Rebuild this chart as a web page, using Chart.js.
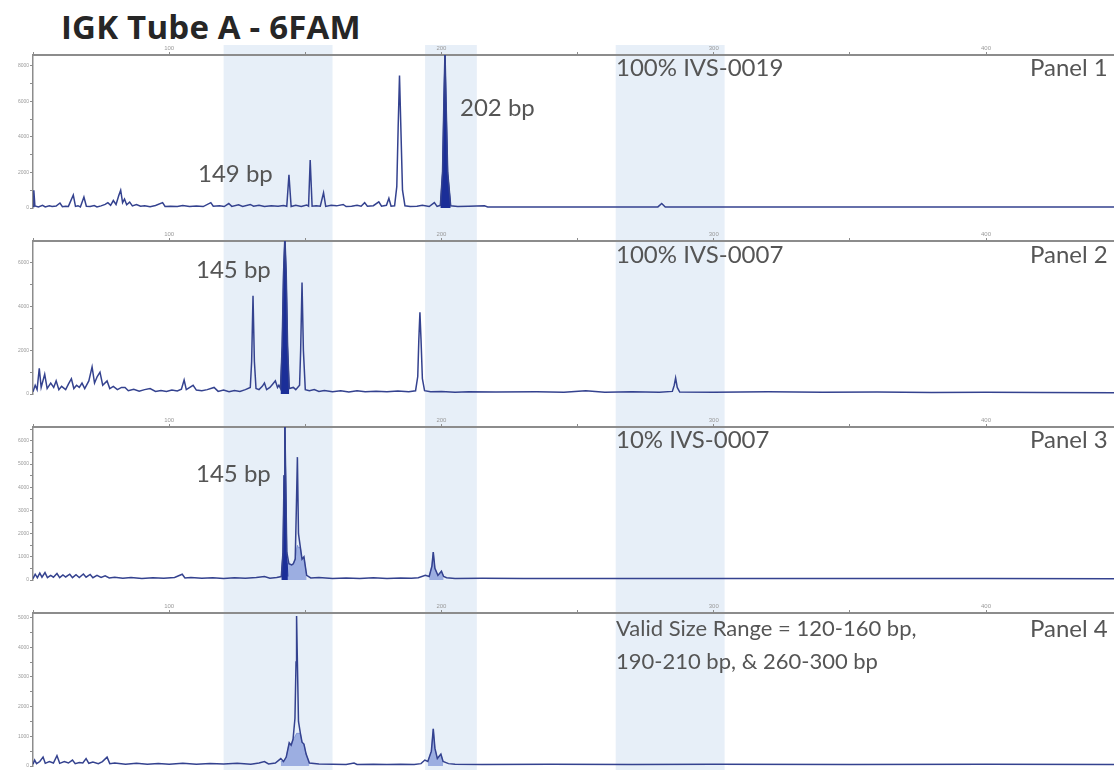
<!DOCTYPE html>
<html>
<head>
<meta charset="utf-8">
<title>IGK Tube A - 6FAM</title>
<script src="https://cdn.jsdelivr.net/npm/chart.js@4.4.1/dist/chart.umd.min.js"></script>
<style>
  body { margin: 0; width: 1114px; height: 770px; overflow: hidden; position: relative; background: #fff; font-family: "Open Sans", sans-serif; }
  h1 { position: absolute; left: 61px; top: 4px; margin: 0; font-size: 33px; font-weight: 700; color: #262626; letter-spacing: 0.2px; }
  .panel { position: absolute; left: 0; width: 1114px; height: 186px; }
  .lbl { position: absolute; font-family: Lato, "Open Sans", sans-serif; font-size: 24px; line-height: 24px; color: #555; font-weight: 400; white-space: nowrap; }
  .lbl.small { font-size: 22px; line-height: 22px; }
</style>
</head>
<body>
<h1>IGK Tube A - 6FAM</h1>
<canvas id="panel1" class="panel" width="1114" height="186" style="top:45px"></canvas>
<canvas id="panel2" class="panel" width="1114" height="186" style="top:231px"></canvas>
<canvas id="panel3" class="panel" width="1114" height="186" style="top:417px"></canvas>
<canvas id="panel4" class="panel" width="1114" height="186" style="top:603px"></canvas>

<div class="lbl" style="left:616px;top:55px">100% IVS-0019</div>
<div class="lbl" style="left:1030px;top:55px">Panel 1</div>
<div class="lbl" style="left:460px;top:95px">202 bp</div>
<div class="lbl" style="left:198px;top:161px">149 bp</div>

<div class="lbl" style="left:616px;top:242px">100% IVS-0007</div>
<div class="lbl" style="left:1030px;top:242px">Panel 2</div>
<div class="lbl" style="left:196px;top:257px">145 bp</div>

<div class="lbl" style="left:616px;top:427px">10% IVS-0007</div>
<div class="lbl" style="left:1030px;top:427px">Panel 3</div>
<div class="lbl" style="left:196px;top:461px">145 bp</div>

<div class="lbl small" style="left:616px;top:617px">Valid Size Range = 120-160 bp,</div>
<div class="lbl small" style="left:616px;top:650px">190-210 bp, &amp; 260-300 bp</div>
<div class="lbl" style="left:1030px;top:616px">Panel 4</div>

<script>
// size axis (bp), its ticks and the shaded windows
const xMin = 50;
const xMax = 447;
const xTicks = [50, 100, 150, 200, 250, 300, 350, 400];
const xTickLabels = [100, 200, 300, 400];
const bands = [[120, 160], [194, 213], [264, 304]];

// panel 1 - 100% IVS-0019
const p1Bp  = [50, 50.3, 50.7, 52, 53.5, 54.5, 56, 57, 58.5, 59.9, 60.8, 62, 63, 64.8, 65.6, 66.5, 67.4, 68.7, 69.6, 71,
  72.5, 73.5, 75, 76.5, 77.5, 78.5, 79.5, 80.5, 81.5, 82.2, 82.9, 83.6, 84.4, 85.5, 86.5, 88, 89.5, 91, 93, 95,
  97.6, 98.5, 100.5, 103, 105, 107.5, 110, 112.5, 115.3, 116.2, 118.5, 120.2, 121.9, 123, 125.5, 127, 129.8, 131, 133, 135,
  137.5, 140, 142, 143.2, 144, 144.8, 146.5, 148.5, 150.5, 151.2, 151.8, 152.5, 154, 155.5, 156.7, 157.5, 159.5, 161.5, 163.9, 165,
  167, 169, 170.5, 171.8, 172.8, 175, 177, 178, 179.8, 180.7, 181.5, 182.8, 183.6, 184.1, 184.6, 185.1, 185.7, 186.6, 188.5, 191,
  193, 195.5, 197.4, 198.4, 199.6, 200.4, 200.9, 201.3, 201.7, 202.3, 203.4, 206, 210, 215.8, 217, 230, 250, 270, 279.5, 280.9,
  282.2, 300, 340, 380, 420, 447];
const p1Rfu = [80, 1000, 120, 60, 150, 60, 120, 80, 110, 280, 70, 100, 90, 730, 90, 130, 60, 620, 100, 80,
  140, 60, 120, 200, 300, 150, 420, 200, 700, 1000, 300, 500, 180, 330, 120, 200, 100, 130, 70, 140,
  300, 90, 100, 80, 140, 90, 110, 80, 300, 100, 120, 80, 250, 90, 180, 90, 200, 100, 160, 80,
  120, 100, 140, 100, 1860, 80, 150, 90, 170, 100, 2700, 100, 120, 100, 860, 90, 150, 120, 200, 80,
  100, 150, 100, 300, 100, 130, 350, 100, 150, 550, 100, 120, 1200, 4500, 7450, 4500, 1000, 120, 80, 100,
  150, 80, 300, 90, 150, 2000, 6000, 8800, 6000, 2000, 120, 80, 100, 120, 60, 50, 60, 50, 60, 250,
  60, 50, 60, 50, 60, 50];
const p1PeakBp  = [199.6, 200.4, 200.9, 201.3, 201.7, 202.3, 203.4];
const p1PeakRfu = [150, 2000, 6000, 8800, 6000, 2000, 120];

// panel 2 - 100% IVS-0007
const p2Bp  = [50, 50.8, 51.5, 52.3, 53, 54.3, 55.2, 56.5, 57.6, 58.5, 59.5, 60.5, 62, 63, 64.1, 65, 66, 67, 68, 69,
  70.5, 71.7, 72.6, 73.6, 74.6, 75.6, 77.2, 78.2, 79.5, 81, 82.5, 83.8, 85, 87, 89, 91, 93, 95, 97, 99,
  101, 103, 104.5, 105.5, 106.3, 108.8, 110, 112, 114, 116.5, 118, 120, 122, 124, 126, 128, 129.8, 130.3, 130.8, 131.3,
  131.9, 133, 134.2, 135, 135.8, 137, 138, 139, 139.8, 140.3, 140.9, 141.5, 142, 142.5, 143, 143.5, 144.1, 145.6, 146.5, 147.9,
  148.3, 148.8, 149.3, 150, 151.5, 153.3, 155, 157, 160, 163, 166, 169, 172, 176, 180, 184, 188, 190.5, 191.3, 191.7,
  192.1, 192.5, 193, 193.8, 196, 200, 205, 210, 220, 235, 245, 253, 260, 270, 280, 284.8, 285.5, 286, 286.6, 287.5,
  300, 320, 340, 360, 380, 400, 420, 447];
const p2Rfu = [100, 400, 200, 1180, 300, 900, 250, 500, 300, 600, 200, 350, 200, 450, 700, 250, 400, 300, 500, 250,
  600, 1240, 500, 800, 1000, 400, 600, 250, 350, 200, 300, 300, 150, 220, 130, 200, 250, 120, 160, 120,
  180, 140, 220, 640, 200, 400, 180, 150, 200, 300, 120, 180, 100, 160, 120, 200, 300, 1500, 4500, 1500,
  250, 200, 350, 500, 200, 300, 450, 600, 300, 400, 250, 2200, 5500, 7200, 5500, 2200, 250, 300, 200, 400,
  2000, 5100, 2000, 200, 150, 200, 120, 160, 100, 150, 90, 150, 100, 130, 100, 140, 100, 150, 800, 2500,
  3740, 2500, 700, 150, 100, 120, 80, 100, 90, 100, 80, 150, 80, 100, 80, 120, 400, 730, 300, 90,
  80, 100, 80, 90, 70, 80, 70, 60];
const p2PeakBp  = [140.9, 141.5, 142, 142.5, 143, 143.5, 144.1];
const p2PeakRfu = [250, 2200, 5500, 7200, 5500, 2200, 250];

// panel 3 - 10% IVS-0007
const p3Bp  = [50, 50.8, 51.6, 52.5, 53.3, 54.4, 55.3, 56.5, 57.5, 58.8, 59.8, 61, 62, 63.5, 64.5, 65.8, 67, 68.5, 69.5, 71,
  72, 73.5, 75, 76.5, 78, 80, 83, 86, 90, 94, 98, 102, 104.8, 105.8, 108, 112, 116, 120, 124, 128,
  132, 135, 137, 139.5, 141.2, 141.8, 142.2, 142.5, 142.8, 143.2, 144, 145, 145.6, 146.3, 146.7, 147.1, 147.5, 148.2, 148.8, 149.5,
  150.5, 152, 155, 160, 165, 170, 175, 180, 185, 189, 191.5, 194.1, 195.5, 196.5, 197, 197.6, 198.7, 200, 200.8, 201.9,
  205, 215, 230, 260, 300, 350, 400, 447];
const p3Rfu = [60, 250, 100, 300, 120, 320, 100, 200, 120, 280, 100, 220, 130, 250, 100, 230, 110, 260, 120, 240,
  100, 200, 110, 180, 90, 120, 80, 110, 70, 100, 80, 110, 250, 90, 110, 80, 100, 70, 100, 80,
  110, 150, 80, 110, 150, 1200, 4500, 6700, 4500, 1200, 700, 650, 700, 900, 3000, 5300, 2000, 1400, 900, 1000,
  200, 90, 110, 70, 90, 70, 100, 70, 90, 80, 100, 200, 150, 600, 1200, 500, 200, 380, 150, 100,
  70, 80, 60, 70, 60, 60, 60, 50];
const p3PeakBp  = [141.2, 141.8, 142.2, 142.5, 142.8, 143.2, 143.6];
const p3PeakRfu = [150, 1200, 4500, 6700, 4500, 1200, 150];
const p3ShoulderBp  = [143.2, 144, 145, 145.6, 146.3, 146.7, 147.1, 147.5, 148.2, 148.8, 149.5, 150.5];
const p3ShoulderRfu = [700, 700, 650, 700, 900, 1300, 1500, 1400, 1400, 900, 1000, 200];
const p3SecondBp  = [195.5, 196.5, 197, 197.6, 198.7, 200, 200.8];
const p3SecondRfu = [150, 600, 1200, 500, 200, 380, 150];

// panel 4 - valid size ranges
const p4Bp  = [50, 50.6, 51.3, 52.5, 53.7, 54.5, 56, 57.5, 58.8, 59.8, 61.5, 63, 64.5, 65.5, 67, 68.3, 69.5, 70.5, 72, 74,
  75.5, 77.2, 78.2, 80, 84, 88, 92, 96, 100, 105, 110, 115, 120, 125, 130, 133, 135, 136.5, 139, 141,
  142, 143, 144.1, 144.8, 145.5, 146.2, 146.6, 146.8, 147.1, 147.5, 148.2, 148.8, 149.5, 150.3, 151.5, 155, 160, 165, 167.9, 169,
  175, 180, 185, 190, 192.5, 193.9, 195, 196.3, 197, 197.6, 198.5, 199.8, 200.6, 202.6, 205, 215, 240, 270, 300, 350,
  400, 447];
const p4Rfu = [60, 200, 80, 150, 300, 90, 150, 100, 350, 90, 150, 100, 200, 80, 120, 100, 250, 90, 130, 80,
  150, 300, 80, 100, 60, 90, 60, 80, 60, 90, 60, 80, 70, 90, 60, 100, 150, 70, 100, 250,
  150, 300, 780, 700, 900, 1600, 3500, 5050, 3500, 1500, 1100, 800, 740, 400, 100, 70, 60, 50, 100, 50,
  60, 50, 60, 50, 80, 200, 150, 500, 1250, 600, 250, 400, 150, 80, 60, 50, 60, 50, 60, 50,
  60, 50];
const p4ShoulderBp  = [141, 142, 143, 144.1, 144.8, 145.5, 146.2, 146.8, 147.5, 148.2, 148.8, 149.5, 150.3, 151.5];
const p4ShoulderRfu = [150, 150, 300, 780, 700, 900, 1000, 1100, 1100, 1100, 800, 740, 400, 100];
const p4SecondBp  = [195, 196.3, 197, 197.6, 198.5, 199.8, 200.6];
const p4SecondRfu = [150, 500, 1250, 600, 250, 400, 150];

// y ranges and ticks per panel
const yMax = [8600, 7000, 6600, 5150];
const p1YTicks = [0, 1000, 2000, 3000, 4000, 5000, 6000, 7000, 8000];
const p2YTicks = [0, 1000, 2000, 3000, 4000, 5000, 6000];
const p3YTicks = [0, 500, 1000, 1500, 2000, 2500, 3000, 3500, 4000, 4500, 5000, 5500, 6000, 6500];
const p4YTicks = [0, 500, 1000, 1500, 2000, 2500, 3000, 3500, 4000, 4500, 5000];
const yLabelEvery = [2000, 2000, 1000, 1000];

const TRACE = '#34428f';
const DARK = '#1b2e98';
const LIGHT = 'rgba(95,120,205,0.55)';

const pts = (xs, ys) => xs.map((x, i) => ({ x: x, y: ys[i] }));

const bandsPlugin = {
  id: 'bands',
  beforeDraw(chart) {
    const { ctx, scales: { x } } = chart;
    ctx.save();
    ctx.fillStyle = '#e7eff8';
    bands.forEach(([a, b]) => {
      const x1 = x.getPixelForValue(a);
      const x2 = x.getPixelForValue(b);
      ctx.fillRect(x1, 0, x2 - x1, chart.height);
    });
    ctx.restore();
  }
};

function makePanel(canvasId, idx, yTicks, trace, fills) {
  const datasets = [{
    data: trace,
    borderColor: TRACE,
    borderWidth: 1.5,
    pointRadius: 0,
    tension: 0,
    fill: false,
    order: 0,
    clip: { left: 0, top: 0, right: 0, bottom: 4 }
  }];
  fills.forEach(f => {
    datasets.push({
      data: f.data,
      borderColor: f.color,
      backgroundColor: f.color,
      borderWidth: 1,
      pointRadius: 0,
      tension: 0,
      fill: 'origin',
      order: 1
    });
  });

  return new Chart(document.getElementById(canvasId), {
    type: 'line',
    data: { datasets: datasets },
    plugins: [bandsPlugin],
    options: {
      responsive: false,
      animation: false,
      events: [],
      layout: { padding: { top: 0, left: 0, right: 0, bottom: 23 } },
      plugins: { legend: { display: false }, tooltip: { enabled: false } },
      scales: {
        x: {
          type: 'linear',
          position: 'top',
          min: xMin,
          max: xMax,
          afterBuildTicks(scale) { scale.ticks = xTicks.map(v => ({ value: v })); },
          afterFit(scale) { scale.height = 10; },
          ticks: {
            autoSkip: false,
            maxRotation: 0,
            padding: 0,
            color: '#9a9a9a',
            font: { size: 6 },
            callback: v => (xTickLabels.includes(v) ? String(v) : '')
          },
          grid: { drawOnChartArea: false, drawTicks: true, tickLength: 3, color: '#8c8c8c' },
          border: { display: true, color: '#8c8c8c', width: 2 }
        },
        y: {
          min: 0,
          max: yMax[idx],
          afterBuildTicks(scale) { scale.ticks = yTicks.map(v => ({ value: v })); },
          afterFit(scale) { scale.width = 33; },
          ticks: {
            autoSkip: false,
            padding: 1,
            color: '#9a9a9a',
            font: { size: 5 },
            callback: v => (v % yLabelEvery[idx] === 0 ? String(v) : '')
          },
          grid: { drawOnChartArea: false, drawTicks: true, tickLength: 3, color: '#8c8c8c' },
          border: { display: true, color: '#8c8c8c', width: 1.5 }
        }
      }
    }
  });
}

makePanel('panel1', 0, p1YTicks, pts(p1Bp, p1Rfu), [
  { data: pts(p1PeakBp, p1PeakRfu), color: DARK }
]);
makePanel('panel2', 1, p2YTicks, pts(p2Bp, p2Rfu), [
  { data: pts(p2PeakBp, p2PeakRfu), color: DARK }
]);
makePanel('panel3', 2, p3YTicks, pts(p3Bp, p3Rfu), [
  { data: pts(p3PeakBp, p3PeakRfu), color: DARK },
  { data: pts(p3ShoulderBp, p3ShoulderRfu), color: LIGHT },
  { data: pts(p3SecondBp, p3SecondRfu), color: LIGHT }
]);
makePanel('panel4', 3, p4YTicks, pts(p4Bp, p4Rfu), [
  { data: pts(p4ShoulderBp, p4ShoulderRfu), color: LIGHT },
  { data: pts(p4SecondBp, p4SecondRfu), color: LIGHT }
]);
</script>
</body>
</html>
